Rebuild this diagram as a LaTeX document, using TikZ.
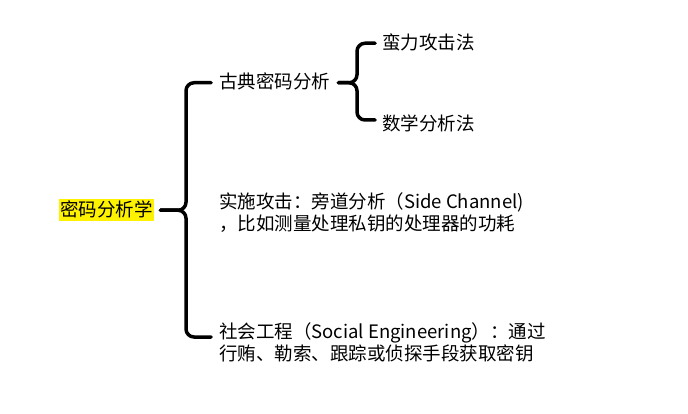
\documentclass[tikz,border=0pt]{standalone}
\usepackage{fontspec}
\setmainfont{Noto Sans CJK SC}
\usetikzlibrary{calc}
\begin{document}
\begin{tikzpicture}[x=1pt,y=-1pt,
  txt/.style={font=\fontsize{18.5}{21.5}\selectfont, inner sep=0pt, anchor=base west, align=left},
  onelinetxt/.style={txt, text height=15pt, text depth=2.5pt},
  rootbox/.style={onelinetxt, anchor=base, align=center, fill=yellow, inner xsep=1.5pt, inner ysep=2pt},
  brace/.style={line width=3.5pt, rounded corners=8pt, line cap=round, line join=round}]
\useasboundingbox (0,0) rectangle (688,414);
% nodes
\node[rootbox] (root) at (106.5,216.5) {密码分析学};
\node[onelinetxt] (c1) at (219,89) {古典密码分析};
\node[txt] (c2) at (219,230) {实施攻击：旁道分析（Side Channel)\\，比如测量处理私钥的处理器的功耗};
\node[txt] (c3) at (219,360) {社会工程（Social Engineering）：通过\\行贿、勒索、跟踪或侦探手段获取密钥};
\node[onelinetxt] (g1) at (382,49.5) {蛮力攻击法};
\node[onelinetxt] (g2) at (382,130.5) {数学分析法};
% big brace
\coordinate (m) at (186,0 |- root.east);
\coordinate (a1) at ([xshift=-8pt]c1.west);
\coordinate (a3) at (211,337);
\draw[brace] (a1) -| (m) -- ([xshift=6pt]root.east);
\draw[brace] (a3) -| (m) -- ([xshift=6pt]root.east);
% small brace
\coordinate (n) at (357,0 |- c1.east);
\coordinate (b1) at ([xshift=-7pt]g1.west);
\coordinate (b2) at (375,120);
\draw[brace] (b1) -| (n) -- ([xshift=8pt]c1.east);
\draw[brace] (b2) -| (n) -- ([xshift=8pt]c1.east);
\end{tikzpicture}
\end{document}
